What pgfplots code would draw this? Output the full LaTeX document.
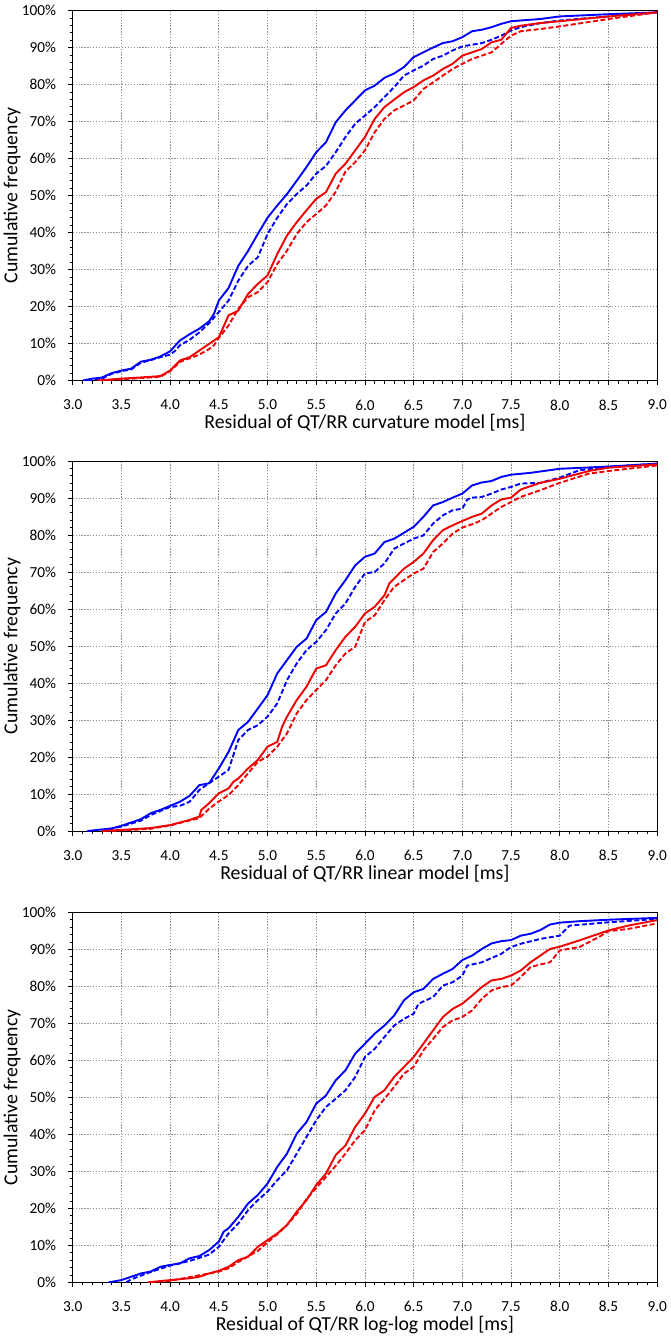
\documentclass[border=0pt]{standalone}
\usepackage{fontspec}
\setmainfont{Carlito}
\usepackage{pgfplots}
\pgfplotsset{compat=1.18}
\definecolor{cblue}{RGB}{0,0,255}
\definecolor{cred}{RGB}{240,0,0}
\pgfplotsset{
  myaxis/.style={
    scale only axis, width=584.5pt, height=370pt, anchor=south west,
    xmin=3, xmax=9, ymin=0, ymax=100,
    xtick={3,3.5,4,4.5,5,5.5,6,6.5,7,7.5,8,8.5,9},
    xticklabels={3.0,3.5,4.0,4.5,5.0,5.5,6.0,6.5,7.0,7.5,8.0,8.5,9.0},
    ytick={0,10,20,30,40,50,60,70,80,90,100},
    yticklabels={0\%,10\%,20\%,30\%,40\%,50\%,60\%,70\%,80\%,90\%,100\%},
    minor x tick num=4, minor y tick num=4,
    grid=major,
    major grid style={gray!85, line width=0.7pt, dash pattern=on 1.3pt off 1.6pt},
    tick align=outside, tick pos=left,
    major tick length=4.5pt, minor tick length=3pt,
    every tick/.style={black, line width=0.8pt},
    axis line style={black, line width=1pt},
    tick label style={font=\fontsize{15.3}{18}\selectfont, black},
    xticklabel style={anchor=center, yshift=-20pt},
    yticklabel style={anchor=east, xshift=-8.5pt},
    label style={font=\fontsize{19.8}{23}\selectfont, black},
    xlabel style={at={(axis description cs:0.5,-0.115)}, anchor=center},
    ylabel style={at={(axis description cs:-0.1038,0.5)}, anchor=center},
    ylabel={Cumulative frequency},
    clip=true,
  },
  bs/.style={cblue, line width=1.9pt, line join=round},
  bd/.style={cblue, line width=1.9pt, dash pattern=on 5pt off 2.5pt},
  rs/.style={cred, line width=1.9pt, line join=round},
  rd/.style={cred, line width=1.9pt, dash pattern=on 5pt off 2.5pt},
}
\begin{document}
\begin{tikzpicture}
\useasboundingbox (0pt,0pt) rectangle (670pt,-1339pt);
% ---------------- Panel 1 ----------------
\begin{axis}[myaxis, at={(72.7pt,-380.5pt)}, xlabel={Residual of QT/RR curvature model [ms]}]
\addplot[bd] table {
3.15 0
3.3 0.5
3.4 1.8
3.5 2.5
3.6 3.0
3.7 4.8
3.8 5.5
3.9 6.3
4.0 7.0
4.05 8.0
4.1 9.5
4.2 11
4.3 13
4.4 15.5
4.5 18.5
4.6 21.6
4.7 27
4.8 31
4.9 33.3
5.0 39.6
5.1 44
5.2 47.7
5.3 50.4
5.4 52.7
5.5 55.9
5.6 58
5.7 61.7
5.8 65.8
5.9 69.4
6.0 71.6
6.1 73.9
6.2 76.6
6.3 79.3
6.4 82.4
6.5 83.8
6.6 85.1
6.7 86.9
6.8 87.8
6.9 89.2
7.0 90.3
7.2 91.2
7.3 92.1
7.4 93.2
7.5 94.6
7.6 95.5
7.8 96.6
8.0 97.3
8.5 98.4
9.0 99.5
};
\addplot[rd] table {
3.3 0
3.6 0.5
3.9 1.0
4.0 2.5
4.1 5.0
4.2 6.0
4.3 7.0
4.4 8.5
4.45 9.5
4.5 11.5
4.6 14.9
4.7 19.4
4.8 22.5
4.9 23.9
5.0 26.6
5.1 31.5
5.2 35.1
5.3 39.6
5.4 42.8
5.5 45
5.6 47.3
5.7 51
5.8 56.5
5.9 59
6.0 62.2
6.1 67.1
6.2 70.7
6.3 73
6.4 74.3
6.5 75.7
6.6 78.8
6.7 80.6
6.8 82.4
6.9 84.2
7.0 85.6
7.1 86.9
7.2 87.8
7.3 88.7
7.4 91
7.5 93.2
7.6 94.4
7.8 95
8.0 95.7
8.5 97.7
9.0 99.5
};
\addplot[bs] table {
3.106 0
3.2 0.5
3.3 0.8
3.4 2.0
3.5 2.7
3.6 3.2
3.7 5.1
3.8 5.6
3.9 6.5
4.0 7.9
4.1 10.8
4.2 12.5
4.3 14.0
4.4 16.0
4.45 18.0
4.5 21.6
4.6 25
4.7 31
4.8 35
4.9 39.6
5.0 44
5.1 47.3
5.2 50.4
5.3 54
5.4 57.7
5.5 61.7
5.6 64.4
5.7 69.8
5.8 73
5.9 75.7
6.0 78.4
6.1 79.7
6.2 81.8
6.3 83
6.4 84.7
6.5 87.4
6.6 88.7
6.7 90
6.8 91.2
6.9 91.7
7.0 92.8
7.1 94.4
7.2 94.8
7.3 95.5
7.4 96.4
7.5 97.1
7.8 97.7
8.0 98.4
8.5 99
9.0 99.5
};
\addplot[rs] table {
3.25 0
3.5 0.5
3.8 1.0
3.9 1.2
4.0 2.7
4.1 5.4
4.2 6.3
4.3 8.1
4.4 9.9
4.5 11.7
4.6 17.6
4.7 18.9
4.8 23.4
4.9 26.1
5.0 28.4
5.1 34.2
5.2 39.2
5.3 42.8
5.4 46
5.5 49.1
5.6 50.9
5.7 55.9
5.8 58.6
5.9 62.2
6.0 65.8
6.1 70.7
6.2 73.9
6.3 75.9
6.4 77.9
6.5 79.3
6.6 81.1
6.7 82.4
6.8 84.2
6.9 85.6
7.0 87.8
7.1 88.7
7.2 89.6
7.3 91.4
7.4 92.1
7.5 95.3
7.6 95.9
7.8 96.6
8.0 97.1
8.5 98.4
9.0 99.5
};
\end{axis}
% ---------------- Panel 2 ----------------
\begin{axis}[myaxis, at={(72.7pt,-831pt)}, xlabel={Residual of QT/RR linear model [ms]}]
\addplot[bd] table {
3.3 0
3.5 1.2
3.7 2.8
3.8 4.3
4.0 6.5
4.1 6.8
4.2 7.9
4.3 11.1
4.4 12.9
4.5 14.7
4.6 16.5
4.7 24.6
4.8 27.3
4.9 28.6
5.0 30.9
5.1 34.5
5.2 40.8
5.3 45.3
5.4 48.9
5.5 51.1
5.6 54.3
5.7 58.8
5.8 61.5
5.9 66
6.0 69.6
6.1 70
6.2 72.3
6.3 76.3
6.4 77.7
6.5 79
6.6 79.9
6.7 83.1
6.8 85.3
6.9 86.7
7.0 87.1
7.05 89.6
7.1 90.1
7.2 90.3
7.3 91.2
7.4 92.3
7.5 93
7.6 93.9
7.8 94.1
8.0 95.5
8.2 97.5
8.5 98.4
9.0 99.3
};
\addplot[rd] table {
3.4 0
3.8 0.6
4.0 1.5
4.3 3.5
4.4 6
4.5 8
4.6 9.7
4.7 12.4
4.8 15.6
4.9 18.7
5.0 20.1
5.1 22.8
5.2 26.4
5.3 31.8
5.4 35.4
5.5 38.1
5.6 40.8
5.7 44.8
5.8 48
5.9 49.8
6.0 56.5
6.1 58.3
6.2 62.4
6.3 66
6.4 67.8
6.5 69.6
6.6 70.9
6.7 75.4
6.8 77.7
6.9 80.4
7.0 82
7.1 82.9
7.2 84
7.3 85.8
7.4 87.6
7.5 88.9
7.6 90.3
7.8 92.1
8.0 94.1
8.3 96.6
8.5 97.3
9.0 98.8
};
\addplot[bs] table {
3.15 0
3.4 0.7
3.5 1.4
3.6 2.3
3.7 3.2
3.8 4.8
3.9 5.7
4.0 6.8
4.1 7.9
4.2 9.5
4.3 12.4
4.4 12.9
4.5 16.9
4.6 21.4
4.7 27.3
4.8 29.5
4.9 33.1
5.0 36.7
5.1 42.6
5.2 46.2
5.3 49.8
5.4 52
5.5 57
5.6 59.2
5.7 64.2
5.8 67.8
5.9 71.8
6.0 74.1
6.1 75
6.2 78.1
6.3 79
6.4 80.6
6.5 82.2
6.6 84.9
6.7 88
6.8 88.9
6.9 90.1
7.0 91.2
7.1 93.4
7.2 94.2
7.3 94.6
7.4 95.7
7.5 96.3
7.7 96.8
8.0 97.9
8.5 98.5
9.0 99.3
};
\addplot[rs] table {
3.3 0
3.5 0.3
3.8 0.8
4.0 1.6
4.1 2.3
4.2 3.0
4.3 3.9
4.32 5.7
4.4 7.5
4.5 10.2
4.6 11.5
4.65 13.3
4.7 14.2
4.8 16.9
4.9 19.2
5.0 22.8
5.1 24.1
5.15 28.2
5.2 30.9
5.3 35.4
5.4 39
5.5 43.9
5.6 44.8
5.7 48.9
5.8 52.5
5.9 55.2
6.0 58.8
6.1 60.6
6.2 63.7
6.25 66.9
6.4 70.9
6.5 72.7
6.6 75
6.7 78.6
6.8 81.3
6.9 82.6
7.0 83.8
7.1 84.9
7.2 85.8
7.3 88
7.4 89.6
7.5 90.1
7.6 92.3
7.8 94.1
8.0 95.2
8.3 97.3
8.5 98.2
9.0 99.1
};
\end{axis}
% ---------------- Panel 3 ----------------
\begin{axis}[myaxis, at={(72.7pt,-1282.3pt)}, xlabel={Residual of QT/RR log-log model [ms]}]
\addplot[bd] table {
3.55 0
3.6 0.8
3.7 1.8
3.8 2.8
4.0 4.5
4.2 5.8
4.3 6.6
4.4 7.5
4.5 9.6
4.6 13.2
4.7 15.9
4.8 19.5
4.9 22.2
5.0 24.5
5.1 27.6
5.2 30.3
5.3 34.8
5.4 39.3
5.5 43.8
5.6 47.4
5.7 49.6
5.8 51.9
5.9 55.5
6.0 60.9
6.1 63.1
6.2 66.3
6.3 69.4
6.4 71.2
6.5 72.6
6.55 75.3
6.7 77.1
6.8 80.2
6.9 81.1
7.0 82.9
7.05 85.6
7.2 86.5
7.4 88.8
7.5 90.6
7.6 91.5
7.8 92.8
8.0 93.7
8.1 96.4
8.5 97.3
9.0 98.2
};
\addplot[rd] table {
3.8 0
4.0 0.4
4.5 2.9
4.6 3.8
4.7 5.5
4.8 7
4.9 8.5
5.0 10.8
5.1 13
5.2 15.5
5.3 18.5
5.4 22.5
5.5 25.5
5.6 28.5
5.7 31.5
5.8 34.8
5.9 38.4
6.0 41.1
6.1 46.5
6.2 49.6
6.3 52.8
6.4 56.4
6.5 58.2
6.6 62.7
6.7 65.8
6.8 69
6.9 70.8
7.0 71.7
7.1 73.5
7.2 76.6
7.3 78.9
7.4 79.8
7.5 80.2
7.6 82.5
7.7 85.2
7.8 85.9
7.9 86.5
8.0 89.7
8.2 90.6
8.4 93.3
8.5 94.9
8.7 95.5
9.0 97
};
\addplot[bs] table {
3.37 0
3.5 0.6
3.6 1.5
3.7 2.4
3.8 2.9
3.9 4.2
4.0 4.7
4.1 5.1
4.2 6.5
4.3 7.1
4.4 8.7
4.5 11
4.55 13.7
4.6 14.6
4.7 17.7
4.8 21.3
4.9 23.6
5.0 26.7
5.1 31.2
5.2 34.8
5.3 40.2
5.4 43.3
5.5 48.3
5.6 50.5
5.7 54.6
5.8 57.3
5.9 61.8
6.0 64.5
6.1 67.2
6.2 69.4
6.3 72.1
6.4 76.2
6.5 78.4
6.6 79.3
6.7 82
6.8 83.4
6.9 84.7
7.0 87.1
7.1 88.3
7.2 90.1
7.3 91.6
7.4 92.2
7.5 92.5
7.6 93.7
7.7 94.2
7.8 95.2
7.9 96.7
8.0 97.2
8.2 97.6
8.5 98
9.0 98.5
};
\addplot[rs] table {
3.77 0
4.0 0.6
4.2 1.1
4.3 1.5
4.4 2.4
4.5 3.1
4.6 4.2
4.7 6
4.8 6.9
4.9 9.6
5.0 11.4
5.1 13.2
5.2 15.5
5.3 19.1
5.4 22.2
5.5 26.3
5.6 29.4
5.7 34.4
5.8 37
5.9 42
6.0 45.6
6.1 50.1
6.2 51.9
6.3 55.5
6.4 58.2
6.5 60.9
6.6 64.5
6.7 68.1
6.8 71.7
6.9 73.9
7.0 75.3
7.1 77.5
7.2 79.8
7.3 81.6
7.4 82
7.5 82.9
7.6 84.3
7.7 86.5
7.8 88.3
7.9 90.1
8.0 90.7
8.2 92.4
8.4 94.2
8.5 95.1
8.7 96.4
9.0 97.9
};
\end{axis}
\end{tikzpicture}
\end{document}
